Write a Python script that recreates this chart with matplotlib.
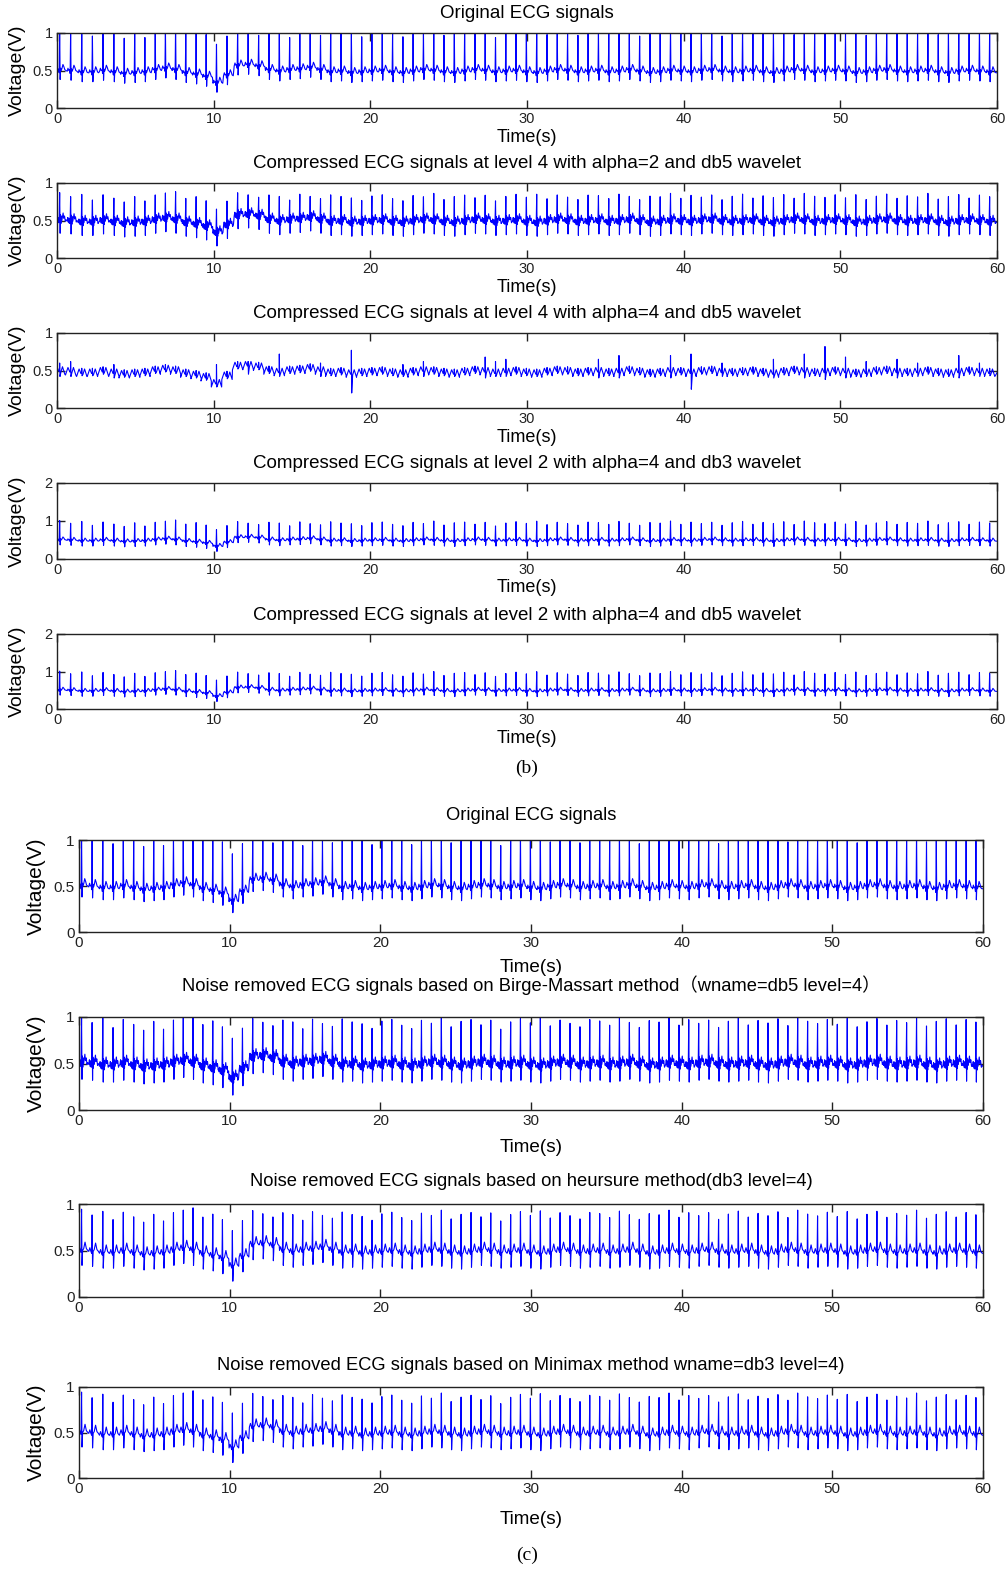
import numpy as np
import matplotlib
matplotlib.use('Agg')
import matplotlib.pyplot as plt

W, H = 1008, 1573

# R-peak times (s)
beat_t = [0.17, 0.87, 1.58, 2.26, 2.94, 3.63, 4.29, 4.96, 5.61, 6.27,
          6.92, 7.57, 8.22, 8.88, 9.52, 10.18, 10.85, 11.53, 12.20, 12.87,
          13.53, 14.19, 14.85, 15.50, 16.16, 16.82, 17.47, 18.13, 18.79, 19.45,
          20.10, 20.76, 21.42, 22.08, 22.73, 23.39, 24.05, 24.70, 25.36, 26.02,
          26.68, 27.33, 27.99, 28.65, 29.30, 29.96, 30.62, 31.28, 31.93, 32.59,
          33.25, 33.90, 34.56, 35.22, 35.87, 36.53, 37.19, 37.85, 38.50, 39.16,
          39.82, 40.47, 41.13, 41.79, 42.45, 43.10, 43.76, 44.42, 45.07, 45.73,
          46.39, 47.05, 47.70, 48.36, 49.02, 49.67, 50.33, 50.99, 51.65, 52.30,
          52.96, 53.62, 54.27, 54.93, 55.59, 56.25, 56.90, 57.56, 58.22, 58.88,
          59.53]

# baseline level (V) around each beat
base = [0.50, 0.49, 0.47, 0.47, 0.49, 0.47, 0.45, 0.46, 0.47, 0.50,
        0.52, 0.50, 0.46, 0.44, 0.41, 0.33, 0.43, 0.56, 0.57, 0.55,
        0.50, 0.48, 0.50, 0.51, 0.53, 0.50, 0.47, 0.48, 0.46, 0.47,
        0.48, 0.49, 0.47, 0.46, 0.48, 0.50, 0.49, 0.47, 0.46, 0.48,
        0.50, 0.49, 0.47, 0.48, 0.49, 0.47, 0.46, 0.48, 0.50, 0.49,
        0.47, 0.48, 0.49, 0.47, 0.48, 0.50, 0.48, 0.46, 0.47, 0.49,
        0.48, 0.47, 0.49, 0.50, 0.48, 0.47, 0.48, 0.49, 0.47, 0.46,
        0.48, 0.50, 0.49, 0.47, 0.48, 0.49, 0.48, 0.46, 0.47, 0.49,
        0.50, 0.48, 0.47, 0.48, 0.49, 0.47, 0.46, 0.48, 0.49, 0.48,
        0.47]

# R-peak level (V) in the original signal
r_orig = [1.10, 1.02, 1.08, 0.96, 1.06, 1.00, 0.93, 1.04, 0.94, 1.05,
          1.08, 1.12, 1.00, 1.05, 0.98, 0.85, 0.96, 1.06, 1.01, 0.97,
          1.05, 1.03, 0.94, 1.06, 1.00, 0.97, 1.07, 1.03, 1.01, 0.95,
          1.04, 1.06, 0.99, 0.95, 1.05, 1.01, 1.09, 0.97, 1.04, 1.06,
          0.99, 1.05, 0.94, 1.03, 1.07, 1.02, 1.09, 0.98, 1.05, 1.01,
          0.97, 1.06, 1.04, 0.99, 1.08, 1.02, 0.96, 1.05, 1.03, 1.09,
          0.99, 1.06, 1.01, 1.05, 0.96, 1.04, 1.08, 0.99, 1.05, 1.02,
          1.07, 0.98, 1.09, 1.04, 1.01, 1.06, 1.00, 1.08, 0.97, 1.03,
          1.07, 0.99, 1.05, 1.02, 1.09, 0.98, 1.04, 1.07, 0.99, 1.06,
          1.03]

# level 4 / alpha=4 reconstruction: only a few beats keep a spike
b3_beat = [0, 1, 5, 15, 18, 21, 25, 28, 33, 35, 41, 42, 43, 52, 54,
           59, 61, 64, 69, 72, 74, 76, 78, 81, 83, 87, 89]
b3_peak = [0.60, 0.62, 0.58, 0.58, 0.62, 0.72, 0.60, 0.77, 0.58, 0.62, 0.68, 0.62, 0.65, 0.65, 0.70,
           0.70, 0.72, 0.60, 0.65, 0.72, 0.82, 0.68, 0.62, 0.65, 0.60, 0.70, 0.60]
b3_trough = [0.42, 0.42, 0.40, 0.28, 0.45, 0.42, 0.42, 0.20, 0.42, 0.42, 0.40, 0.42, 0.42, 0.40, 0.40,
             0.40, 0.25, 0.42, 0.40, 0.40, 0.38, 0.40, 0.42, 0.40, 0.42, 0.40, 0.42]

# beat shapes: offset from R (s) and level above baseline (V); R and S filled per beat
orig_dt = [-0.22, -0.17, -0.12, -0.06, -0.03, 0.0, 0.03, 0.06, 0.10, 0.15, 0.21, 0.27, 0.33, 0.40]
orig_v = [0.00, 0.04, 0.01, 0.02, -0.03, 0.0, 0.0, 0.03, 0.00, 0.03, 0.08, 0.05, 0.01, 0.00]
noisy_dt = [-0.22, -0.18, -0.14, -0.10, -0.06, -0.03, 0.0, 0.03, 0.05, 0.08, 0.11, 0.14, 0.18, 0.22, 0.26, 0.31, 0.36, 0.41]
noisy_v = [0.00, 0.05, -0.02, 0.04, -0.03, 0.02, 0.0, 0.0, 0.08, -0.04, 0.06, 0.00, 0.05, 0.10, 0.03, 0.06, -0.01, 0.01]
clean_dt = [-0.22, -0.15, -0.08, -0.03, 0.0, 0.03, 0.07, 0.14, 0.23, 0.32, 0.42]
clean_v = [0.00, 0.04, 0.00, -0.02, 0.0, 0.0, 0.00, 0.02, 0.09, 0.02, 0.00]
wavy_dt = [-0.33, -0.17, -0.05, -0.01, 0.0, 0.02, 0.08, 0.18, 0.33]
wavy_v = [-0.05, 0.05, -0.01, 0.0, 0.0, 0.0, -0.02, 0.05, -0.05]

shapes = {
    'orig': (orig_dt, orig_v, 5, 6),
    'noisy': (noisy_dt, noisy_v, 6, 7),
    'clean': (clean_dt, clean_v, 4, 5),
    'wavy': (wavy_dt, wavy_v, 4, 5),
}


def make_signal(shape, r_abs, s_abs):
    dt, v, ri, si = shapes[shape]
    xs, ys = [0.0], [base[0]]
    for i, t in enumerate(beat_t):
        seg = [base[i] + a for a in v]
        seg[ri] = r_abs[i]
        seg[si] = s_abs[i]
        xs += [t + d for d in dt]
        ys += seg
    xs.append(60.0)
    ys.append(base[-1])
    return np.array(xs), np.array(ys)


def scaled(gain, sdep):
    r = [b + (r - b) * gain for r, b in zip(r_orig, base)]
    s = [b - sdep for b in base]
    return r, s


r_b3 = [b + 0.06 for b in base]
s_b3 = [b - 0.04 for b in base]
for k, i in enumerate(b3_beat):
    r_b3[i] = b3_peak[k]
    s_b3[i] = b3_trough[k]

sig_orig = make_signal('orig', r_orig, [b - 0.12 for b in base])
sig_b2 = make_signal('noisy', *scaled(0.62, 0.17))
sig_b3 = make_signal('wavy', r_b3, s_b3)
sig_b45 = make_signal('orig', *scaled(0.85, 0.13))
sig_c2 = make_signal('noisy', *scaled(0.85, 0.17))
sig_c34 = make_signal('clean', *scaled(0.74, 0.16))

titles_b = ['Original ECG signals',
            'Compressed ECG signals at level 4 with alpha=2 and db5 wavelet',
            'Compressed ECG signals at level 4 with alpha=4 and db5 wavelet',
            'Compressed ECG signals at level 2 with alpha=4 and db3 wavelet',
            'Compressed ECG signals at level 2 with alpha=4 and db5 wavelet']
titles_c = ['Original ECG signals',
            'Noise removed ECG signals based on Birge-Massart method\uff08wname=db5 level=4\uff09',
            'Noise removed ECG signals based on heursure method(db3 level=4)',
            'Noise removed ECG signals based on Minimax method wname=db3 level=4)']

sans = ['Liberation Sans', 'Noto Sans CJK SC', 'DejaVu Sans']

fig = plt.figure(figsize=(W / 100, H / 100), dpi=100)


def fx(px):
    return px / W


def fy(py):
    return 1 - py / H


def panel(box, sig, ylim, yticks, title, tsize, ticksize, ylab, ysize, xlab, xsize,
          title_y, ylab_x, xlab_y):
    x0, x1, top, bot = box
    ax = fig.add_axes([fx(x0), fy(bot), (x1 - x0) / W, (bot - top) / H])
    ax.plot(sig[0], sig[1], color='#0000ff', lw=0.8)
    ax.set_xlim(0, 60)
    ax.set_ylim(*ylim)
    ax.set_xticks(range(0, 61, 10))
    ax.set_yticks(yticks)
    ax.set_yticklabels([('%g' % v) for v in yticks])
    ax.tick_params(direction='in', length=6, width=1, top=True, right=True,
                   labelsize=ticksize, colors='#222222', pad=3)
    for lab in ax.get_xticklabels() + ax.get_yticklabels():
        lab.set_family(sans)
    for sp in ax.spines.values():
        sp.set_color('#222222')
        sp.set_linewidth(1.0)
    cx = (x0 + x1) / 2
    fig.text(fx(cx), fy(title_y), title, ha='center', va='center', fontsize=tsize, family=sans)
    if ylab:
        fig.text(fx(ylab_x), fy((top + bot) / 2), 'Voltage(V)', rotation=90, ha='center',
                 va='center', fontsize=ysize, family=sans)
    if xlab:
        fig.text(fx(cx), fy(xlab_y), 'Time(s)', ha='center', va='center', fontsize=xsize,
                 family=sans)
    return ax


# part (b)
b_boxes = [(57, 997, 33, 108), (57, 997, 183, 258), (57, 997, 333, 408),
           (57, 997, 483, 559), (57, 997, 634, 709)]
b_sigs = [sig_orig, sig_b2, sig_b3, sig_b45, sig_b45]
b_ylims = [(0, 1), (0, 1), (0, 1), (0, 2), (0, 2)]
b_yticks = [[0, 0.5, 1], [0, 0.5, 1], [0, 0.5, 1], [0, 1, 2], [0, 1, 2]]
for i in range(5):
    top, bot = b_boxes[i][2], b_boxes[i][3]
    panel(b_boxes[i], b_sigs[i], b_ylims[i], b_yticks[i], titles_b[i], 13.5, 10.5,
          True, 14, True, 13, top - 19, 17, bot + 29)
fig.text(fx(527), fy(768), '(b)', ha='center', va='center', fontsize=14,
         family=['Liberation Serif', 'DejaVu Serif'])

# part (c)
c_boxes = [(79, 983, 840, 932), (79, 983, 1017, 1110), (79, 983, 1204, 1297),
           (79, 983, 1387, 1478)]
c_sigs = [sig_orig, sig_c2, sig_c34, sig_c34]
c_ylab = [True, True, False, True]
c_xlab = [True, True, False, True]
c_title_y = [816, 985, 1182, 1365]
c_xlab_y = [968, 1148, 0, 1520]
for i in range(4):
    panel(c_boxes[i], c_sigs[i], (0, 1), [0, 0.5, 1], titles_c[i], 13.2, 11,
          c_ylab[i], 15, c_xlab[i], 13.6, c_title_y[i], 36, c_xlab_y[i])
fig.text(fx(527), fy(1555), '(c)', ha='center', va='center', fontsize=14,
         family=['Liberation Serif', 'DejaVu Serif'])

fig.savefig('out.png', dpi=100)
